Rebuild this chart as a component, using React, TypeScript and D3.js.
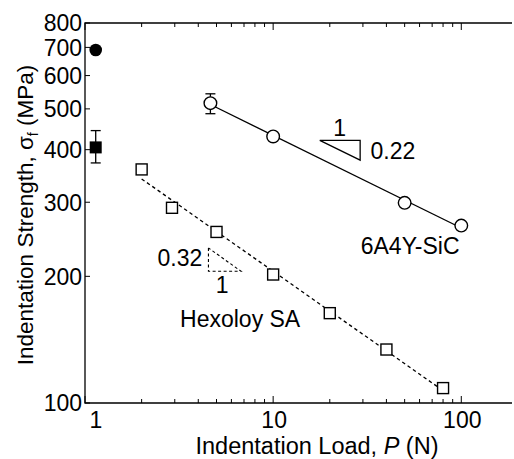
import React from "react";
import * as d3 from "d3";

// 6A4Y-SiC (open circles, solid fit line)
const sicLoad = [4.64, 10, 50, 100];
const sicStrength = [516, 430, 299, 264];
const sicErrLow = [487, null, null, null];
const sicErrHigh = [543, null, null, null];

// Hexoloy SA (open squares, dashed fit line)
const hexLoad = [2, 2.9, 5, 10, 20, 40, 80];
const hexStrength = [359, 291, 255, 202, 163.5, 134, 108.5];

// unindented strengths, plotted just right of P = 1
const unindentedLoad = 1.14;
const sicUnindented = 690;
const hexUnindented = 405;
const hexUnindentedErr = [372, 444];

const xMajorTicks = [1, 10, 100];
const yTicks = [100, 200, 300, 400, 500, 600, 700, 800];

const W = 514;
const H = 459;
const margin = { top: 23, right: 2, bottom: 56, left: 85 };
const font = "'Liberation Sans', Arial, sans-serif";

const x = d3.scaleLog().domain([1, 186]).range([margin.left, W - margin.right]);
const y = d3.scaleLog().domain([100, 800]).range([H - margin.bottom, margin.top]);

// least squares in log space -> straight line on the log-log plot
function powerFit(xs: number[], ys: number[]) {
  const lx = xs.map(Math.log10);
  const ly = ys.map(Math.log10);
  const mx = d3.mean(lx)!;
  const my = d3.mean(ly)!;
  const b = d3.sum(lx, (v, i) => (v - mx) * (ly[i] - my)) / d3.sum(lx, (v) => (v - mx) ** 2);
  const a = my - b * mx;
  return (p: number) => Math.pow(10, a + b * Math.log10(p));
}

const sicFit = powerFit(sicLoad, sicStrength);
const hexFit = powerFit(hexLoad, hexStrength);

// slope triangles (data coords)
const sicTri = { x0: 17.7, x1: 29, yTop: 421, slope: 0.22 };
const hexTri = { x0: 4.53, x1: 6.75, yTop: 233.6, slope: 0.32 };

export default function App() {
  const bottom = H - margin.bottom;
  const minorTicks: number[] = [];
  for (const dec of [1, 10, 100]) {
    for (let k = 2; k <= 9; k++) {
      const v = dec * k;
      if (v < 186) minorTicks.push(v);
    }
  }

  const sicTriBottom = sicTri.yTop * Math.pow(sicTri.x1 / sicTri.x0, -sicTri.slope);
  const hexTriBottom = hexTri.yTop * Math.pow(hexTri.x1 / hexTri.x0, -hexTri.slope);

  const sicLineD = d3.line<number>().x((d) => x(d)).y((d) => y(sicFit(d)))([sicLoad[0], sicLoad[sicLoad.length - 1]]);
  const hexLineD = d3.line<number>().x((d) => x(d)).y((d) => y(hexFit(d)))([hexLoad[0], hexLoad[hexLoad.length - 1]]);

  const fs = 23;

  return (
    <div style={{ position: "fixed", left: 0, top: 0, background: "#fff" }}>
      <svg width={W} height={H} style={{ display: "block" }} fontFamily={font}>
        <rect width={W} height={H} fill="#fff" />
        {/* frame: left, bottom, top */}
        <path
          d={`M${W - margin.right},${margin.top}H${margin.left}V${bottom}H${W - margin.right}`}
          fill="none"
          stroke="#000"
          strokeWidth={1.3}
        />
        {/* x ticks, bottom and top, pointing inward */}
        {minorTicks.map((t) => (
          <g key={"mn" + t}>
            <line x1={x(t)} x2={x(t)} y1={bottom} y2={bottom - 4} stroke="#000" />
            <line x1={x(t)} x2={x(t)} y1={margin.top} y2={margin.top + 4} stroke="#000" />
          </g>
        ))}
        {xMajorTicks.map((t) => (
          <g key={"mj" + t}>
            <line x1={x(t)} x2={x(t)} y1={bottom} y2={bottom - 7} stroke="#000" />
            <line x1={x(t)} x2={x(t)} y1={margin.top} y2={margin.top + 7} stroke="#000" />
            <text
              x={x(t) + (t === 1 ? 11 : 1)}
              y={bottom + 25}
              textAnchor="middle"
              fontSize={fs}
            >
              {t}
            </text>
          </g>
        ))}
        {/* y ticks */}
        {yTicks.map((t) => (
          <g key={"y" + t}>
            <line x1={margin.left} x2={margin.left + 5} y1={y(t)} y2={y(t)} stroke="#000" />
            <text x={margin.left - 3} y={y(t)} dy="0.36em" textAnchor="end" fontSize={fs}>
              {t}
            </text>
          </g>
        ))}

        {/* axis titles */}
        <text x={317} y={bottom + 51} textAnchor="middle" fontSize={23.5}>
          Indentation Load, <tspan fontStyle="italic">P</tspan> (N)
        </text>
        <text
          transform={`translate(${33},${(margin.top + bottom) / 2 + 2}) rotate(-90)`}
          textAnchor="middle"
          fontSize={22.5}
        >
          Indentation Strength, σ<tspan fontSize={14} dy={5}>f</tspan>
          <tspan dy={-5}> (MPa)</tspan>
        </text>

        {/* fit lines */}
        <path d={sicLineD ?? ""} fill="none" stroke="#000" strokeWidth={1.3} />
        <path d={hexLineD ?? ""} fill="none" stroke="#000" strokeWidth={1.3} strokeDasharray="3.5,3" />

        {/* error bars */}
        {sicLoad.map((p, i) =>
          sicErrLow[i] != null ? (
            <g key={"se" + i} stroke="#000" strokeWidth={1.3}>
              <line x1={x(p)} x2={x(p)} y1={y(sicErrLow[i]!)} y2={y(sicErrHigh[i]!)} />
              <line x1={x(p) - 5} x2={x(p) + 5} y1={y(sicErrLow[i]!)} y2={y(sicErrLow[i]!)} />
              <line x1={x(p) - 5} x2={x(p) + 5} y1={y(sicErrHigh[i]!)} y2={y(sicErrHigh[i]!)} />
            </g>
          ) : null
        )}
        <g stroke="#000" strokeWidth={1.3}>
          <line x1={x(unindentedLoad)} x2={x(unindentedLoad)} y1={y(hexUnindentedErr[0])} y2={y(hexUnindentedErr[1])} />
          <line x1={x(unindentedLoad) - 5} x2={x(unindentedLoad) + 5} y1={y(hexUnindentedErr[0])} y2={y(hexUnindentedErr[0])} />
          <line x1={x(unindentedLoad) - 5} x2={x(unindentedLoad) + 5} y1={y(hexUnindentedErr[1])} y2={y(hexUnindentedErr[1])} />
        </g>

        {/* markers */}
        {sicLoad.map((p, i) => (
          <circle key={"sc" + i} cx={x(p)} cy={y(sicStrength[i])} r={6.3} fill="#fff" stroke="#000" strokeWidth={1.4} />
        ))}
        {hexLoad.map((p, i) => (
          <rect
            key={"hs" + i}
            x={x(p) - 5.5}
            y={y(hexStrength[i]) - 5.5}
            width={11}
            height={11}
            fill="#fff"
            stroke="#000"
            strokeWidth={1.4}
          />
        ))}
        <circle cx={x(unindentedLoad)} cy={y(sicUnindented)} r={6.3} fill="#000" />
        <rect x={x(unindentedLoad) - 6} y={y(hexUnindented) - 6} width={12} height={12} fill="#000" />

        {/* slope triangles */}
        <path
          d={`M${x(sicTri.x0)},${y(sicTri.yTop)}H${x(sicTri.x1)}V${y(sicTriBottom)}Z`}
          fill="none"
          stroke="#000"
          strokeWidth={1.3}
        />
        <text x={x(22.6)} y={y(452)} dy="0.36em" textAnchor="middle" fontSize={fs}>1</text>
        <text x={x(32.9)} y={y(398)} dy="0.36em" fontSize={fs}>0.22</text>

        <path
          d={`M${x(hexTri.x0)},${y(hexTri.yTop)}V${y(hexTriBottom)}H${x(hexTri.x1)}L${x(hexTri.x0)},${y(hexTri.yTop)}`}
          fill="none"
          stroke="#000"
          strokeWidth={1.1}
          strokeDasharray="3,2.5"
        />
        <text x={x(4.2)} y={y(222)} dy="0.36em" textAnchor="end" fontSize={fs}>0.32</text>
        <text x={x(5.35)} y={y(191)} dy="0.36em" textAnchor="middle" fontSize={fs}>1</text>

        {/* series labels */}
        <text x={x(29.2)} y={y(237)} dy="0.36em" fontSize={fs}>6A4Y-SiC</text>
        <text x={x(3.2)} y={y(159)} dy="0.36em" fontSize={fs}>Hexoloy SA</text>
      </svg>
    </div>
  );
}
